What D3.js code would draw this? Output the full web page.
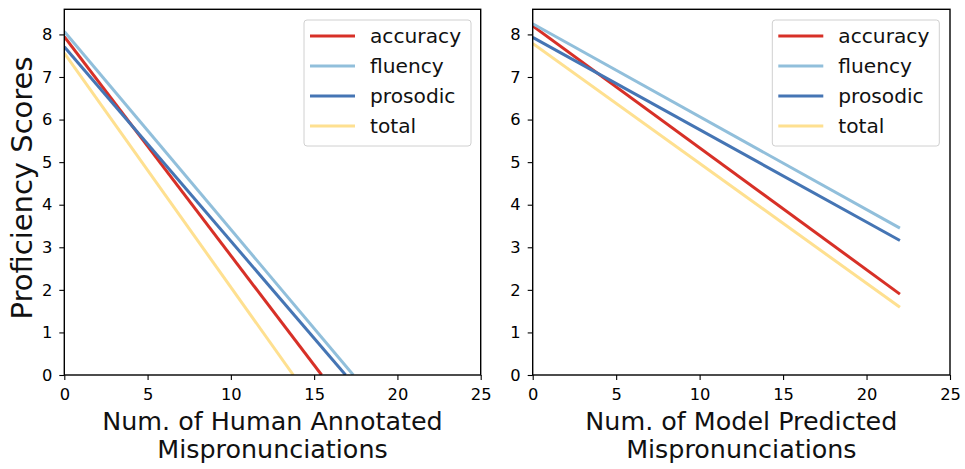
<!DOCTYPE html>
<html>
<head>
<meta charset="utf-8">
<script src="https://cdn.jsdelivr.net/npm/d3@7"></script>
<style>
  html, body { margin: 0; padding: 0; background: #fff; }
  svg { display: block; font-family: "DejaVu Sans", sans-serif; }
</style>
</head>
<body>
<svg id="chart" width="965" height="469"></svg>
<script>
// ---------- data ----------
const seriesNames = ["accuracy", "fluency", "prosodic", "total"];
const xTicks = [0, 5, 10, 15, 20, 25];
const yTicks = [0, 1, 2, 3, 4, 5, 6, 7, 8];

// Left panel: lines from x = 0 down to where each hits 0
const humanStartX = [0, 0, 0, 0];
const humanStartY = [7.95, 8.07, 7.71, 7.56];
const humanEndX = [15.45, 17.35, 16.89, 13.75];
const humanEndY = [0, 0, 0, 0];

// Right panel: lines from x = 0 to x = 22
const modelStartX = [0, 0, 0, 0];
const modelStartY = [8.2, 8.25, 7.93, 7.79];
const modelEndX = [22, 22, 22, 22];
const modelEndY = [1.90, 3.45, 3.16, 1.59];

const xLabelLeft = ["Num. of Human Annotated", "Mispronunciations"];
const xLabelRight = ["Num. of Model Predicted", "Mispronunciations"];
const yLabel = "Proficiency Scores";

// ---------- styles ----------
const colors = ["#d73027", "#91bfdb", "#4575b4", "#fee090"];
const lineW = 3;

const svg = d3.select("#chart");

function panel(cfg) {
  const x = d3.scaleLinear().domain([0, 25]).range([cfg.left, cfg.right]);
  const y = d3.scaleLinear().domain([0, 8.59]).range([cfg.bottom, cfg.top]);
  const g = svg.append("g");

  const clipId = "clip" + cfg.id;
  svg.append("clipPath").attr("id", clipId)
    .append("rect").attr("x", cfg.left).attr("y", cfg.top)
    .attr("width", cfg.right - cfg.left).attr("height", cfg.bottom - cfg.top);

  const lines = seriesNames.map((name, i) => ({
    name, color: colors[i],
    pts: [[cfg.sx[i], cfg.sy[i]], [cfg.ex[i], cfg.ey[i]]]
  }));
  const lineGen = d3.line().x(d => x(d[0])).y(d => y(d[1]));
  g.append("g").attr("clip-path", `url(#${clipId})`)
    .selectAll("path").data(lines).join("path")
    .attr("d", d => lineGen(d.pts))
    .attr("fill", "none").attr("stroke", d => d.color)
    .attr("stroke-width", lineW);

  // axes
  const xAxis = g.append("g").attr("transform", `translate(0,${cfg.bottom})`)
    .call(d3.axisBottom(x).tickValues(xTicks).tickSize(5).tickPadding(8).tickFormat(d3.format("d")));
  const yAxis = g.append("g").attr("transform", `translate(${cfg.left},0)`)
    .call(d3.axisLeft(y).tickValues(yTicks).tickSize(5).tickPadding(7).tickFormat(d3.format("d")));
  [xAxis, yAxis].forEach(a => {
    a.select(".domain").remove();
    a.selectAll("line").attr("stroke", "#000").attr("stroke-width", 1.1);
    a.selectAll("text").attr("font-size", "16.3px").attr("fill", "#000")
      .attr("font-family", "DejaVu Sans");
  });

  // frame
  g.append("rect").attr("x", cfg.left).attr("y", cfg.top)
    .attr("width", cfg.right - cfg.left).attr("height", cfg.bottom - cfg.top)
    .attr("fill", "none").attr("stroke", "#000").attr("stroke-width", 1.4);

  // x label
  const cx = (cfg.left + cfg.right) / 2;
  cfg.xlabel.forEach((t, k) => {
    g.append("text").attr("x", cx).attr("y", 430 + k * 28.3)
      .attr("text-anchor", "middle").attr("font-size", "25.4px")
      .attr("fill", "#111").text(t);
  });

  // legend
  const lg = g.append("g").attr("transform", `translate(${cfg.legendX},20)`);
  lg.append("rect").attr("x", 0).attr("y", 0).attr("width", 167).attr("height", 126)
    .attr("rx", 3).attr("fill", "#fff").attr("fill-opacity", 0.8)
    .attr("stroke", "#d0d0d0").attr("stroke-width", 1);
  lines.forEach((d, i) => {
    const yy = 16 + i * 30;
    lg.append("line").attr("x1", 6).attr("x2", 51).attr("y1", yy).attr("y2", yy)
      .attr("stroke", d.color).attr("stroke-width", lineW);
    lg.append("text").attr("x", 66).attr("y", yy).attr("dy", "0.35em")
      .attr("font-size", "20.2px").attr("fill", "#111").text(d.name);
  });
}

panel({ id: "L", left: 64.3, right: 480.7, top: 9.3, bottom: 375,
  sx: humanStartX, sy: humanStartY, ex: humanEndX, ey: humanEndY,
  xlabel: xLabelLeft, legendX: 304 });
panel({ id: "R", left: 532.7, right: 950, top: 9.3, bottom: 375,
  sx: modelStartX, sy: modelStartY, ex: modelEndX, ey: modelEndY,
  xlabel: xLabelRight, legendX: 772.3 });

svg.append("text")
  .attr("transform", "translate(31.5,188) rotate(-90)")
  .attr("text-anchor", "middle").attr("font-size", "29px").attr("fill", "#111")
  .text(yLabel);
</script>
</body>
</html>
